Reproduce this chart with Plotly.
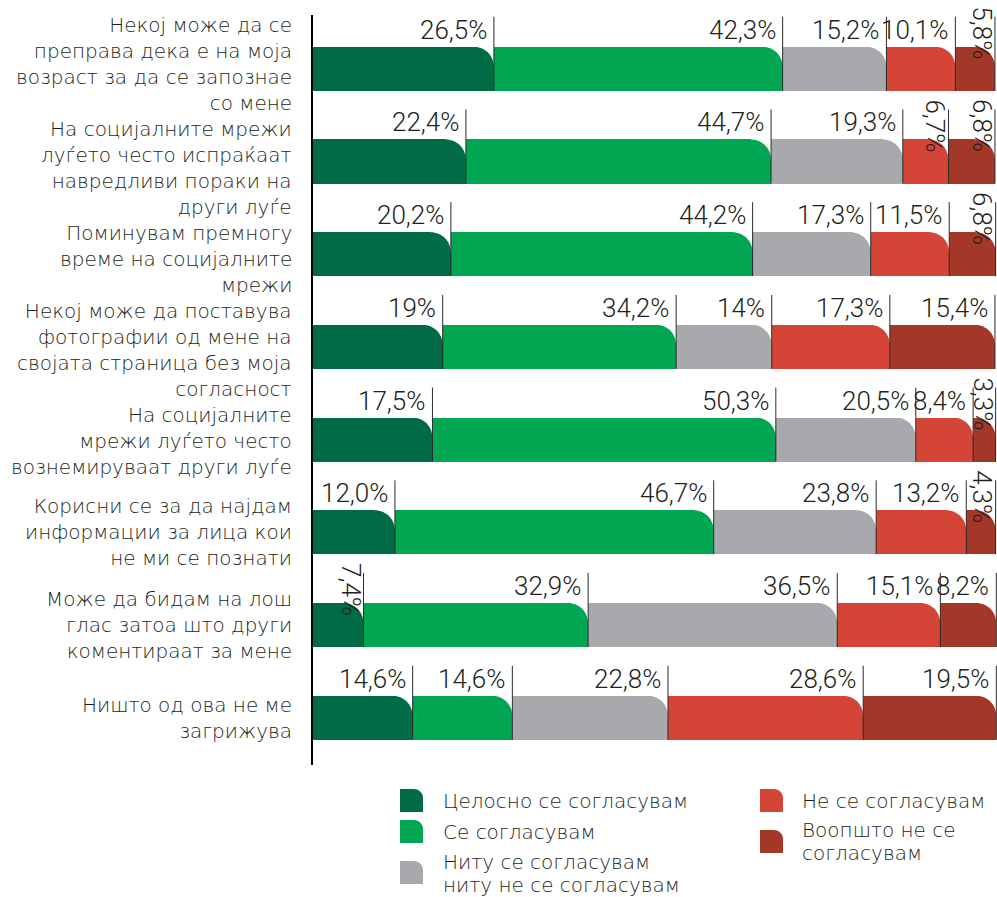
import plotly.graph_objects as go

# ---------------- data ----------------
categories = [
    "Некој може да се<br>преправа дека е на моја<br>возраст за да се запознае<br>со мене",
    "На социјалните мрежи<br>луѓето често испраќаат<br>навредливи пораки на<br>други луѓе",
    "Поминувам премногу<br>време на социјалните<br>мрежи",
    "Некој може да поставува<br>фотографии од мене на<br>својата страница без моја<br>согласност",
    "На социјалните<br>мрежи луѓето често<br>вознемируваат други луѓе",
    "Корисни се за да најдам<br>информации за лица кои<br>не ми се познати",
    "Може да бидам на лош<br>глас затоа што други<br>коментираат за мене",
    "Ништо од ова не ме<br>загрижува",
]

series_names = [
    "Целосно се согласувам",
    "Се согласувам",
    "Ниту се согласувам<br>ниту не се согласувам",
    "Не се согласувам",
    "Воопшто не се<br>согласувам",
]

fully_agree = [26.5, 22.4, 20.2, 19.0, 17.5, 12.0, 7.4, 14.6]
agree = [42.3, 44.7, 44.2, 34.2, 50.3, 46.7, 32.9, 14.6]
neutral = [15.2, 19.3, 17.3, 14.0, 20.5, 23.8, 36.5, 22.8]
disagree = [10.1, 6.7, 11.5, 17.3, 8.4, 13.2, 15.1, 28.6]
strongly_disagree = [5.8, 6.8, 6.8, 15.4, 3.3, 4.3, 8.2, 19.5]

labels_fully_agree = ["26,5%", "22,4%", "20,2%", "19%", "17,5%", "12,0%", "7,4%", "14,6%"]
labels_agree = ["42,3%", "44,7%", "44,2%", "34,2%", "50,3%", "46,7%", "32,9%", "14,6%"]
labels_neutral = ["15,2%", "19,3%", "17,3%", "14%", "20,5%", "23,8%", "36,5%", "22,8%"]
labels_disagree = ["10,1%", "6,7%", "11,5%", "17,3%", "8,4%", "13,2%", "15,1%", "28,6%"]
labels_strongly_disagree = ["5,8%", "6,8%", "6,8%", "15,4%", "3,3%", "4,3%", "8,2%", "19,5%"]

colors = ["#006B45", "#00A651", "#A7A9AC", "#D44538", "#A33728"]

# ---------------- layout constants ----------------
W, H = 997, 897
ML, MR, MT, MB = 313, 0, 15, 132
X_MAX = 100.2
Y_TOP, Y_BOTTOM = -0.58, 7.51
BAR_W = 0.475
CORNER_R = 20
LINE_EXT_PX = 30
ROTATE_BELOW = 8.0
PCT_FONT = "Roboto, 'Open Sans', sans-serif"
TXT_FONT = "'DejaVu Sans', 'Open Sans', sans-serif"
TEXT_COLOR = "#231F20"
CAT_FONT_SIZE = 20
LINE_PITCH = 1.3 * CAT_FONT_SIZE
PCT_FONT_SIZE = 26
LEG_FONT_SIZE = 20
PUSH_UP_SHARE = 0.3

plot_w = W - ML - MR
plot_h = H - MT - MB
px_per_x = plot_w / X_MAX
px_per_y = plot_h / (Y_BOTTOM - Y_TOP)
K = 0.5523

series = [fully_agree, agree, neutral, disagree, strongly_disagree]
series_labels = [labels_fully_agree, labels_agree, labels_neutral,
                 labels_disagree, labels_strongly_disagree]
ypos = list(range(len(categories)))

fig = go.Figure()
for name, vals, col in zip(series_names, series, colors):
    fig.add_trace(go.Bar(
        y=ypos, x=vals, orientation="h", name=name.replace("<br>", " "),
        width=BAR_W, marker=dict(color=col, line=dict(width=0)),
        showlegend=False,
        hovertemplate="%{x}%<extra>" + name.replace("<br>", " ") + "</extra>",
    ))

masks, lines, annotations = [], [], []
for i in ypos:
    cum = 0.0
    top = i - BAR_W / 2
    bottom = i + BAR_W / 2
    for vals, labs in zip(series, series_labels):
        v = vals[i]
        cum += v
        r = min(CORNER_R, v * px_per_x)
        a = (1 - K) * r
        masks.append(dict(
            type="path", xref="x", yref="y",
            xsizemode="pixel", ysizemode="pixel",
            xanchor=cum, yanchor=top,
            path=(f"M {-r:.2f},0 L {-r:.2f},1 L 0,1 L 0,{-r:.2f} "
                  f"C 0,{-a:.2f} {-a:.2f},0 {-r:.2f},0 Z"),
            fillcolor="white", line=dict(width=0), layer="above",
        ))
        lines.append(dict(
            type="line", xref="x", yref="y",
            x0=cum, x1=cum, y0=bottom, y1=top - LINE_EXT_PX / px_per_y,
            line=dict(color="#2b2b2b", width=1), layer="above",
        ))
        if v < ROTATE_BELOW:
            annotations.append(dict(
                x=cum, y=top, xref="x", yref="y", text=labs[i],
                showarrow=False, textangle=90,
                xanchor="right", yanchor="bottom", xshift=4, yshift=-15,
                font=dict(family=PCT_FONT, size=PCT_FONT_SIZE, color=TEXT_COLOR, weight=300),
            ))
        else:
            annotations.append(dict(
                x=cum, y=top, xref="x", yref="y", text=labs[i],
                showarrow=False, xanchor="right", yanchor="bottom",
                xshift=-5, yshift=0,
                font=dict(family=PCT_FONT, size=PCT_FONT_SIZE, color=TEXT_COLOR, weight=300),
            ))

# ---------------- category labels (centred, pushed apart where they collide) ----------------
n_lines = [c.count("<br>") + 1 for c in categories]
centres = [MT + (i - Y_TOP) * px_per_y for i in ypos]
half = [n * LINE_PITCH / 2 for n in n_lines]
offsets = [0.0] * len(categories)
for _ in range(300):
    for i in range(len(categories) - 1):
        ov = (centres[i] + offsets[i] + half[i]) - (centres[i + 1] + offsets[i + 1] - half[i + 1])
        if ov > 0.01:
            offsets[i] -= ov * PUSH_UP_SHARE
            offsets[i + 1] += ov * (1 - PUSH_UP_SHARE)
for i, cat in enumerate(categories):
    annotations.append(dict(
        x=0, y=i, xref="paper", yref="y", text=cat, showarrow=False,
        xanchor="right", yanchor="middle", align="right",
        xshift=-19, yshift=-offsets[i],
        font=dict(family=TXT_FONT, size=CAT_FONT_SIZE, color=TEXT_COLOR, weight=300),
    ))

# ---------------- manual legend ----------------
def px_to_paper(px, py):
    return (px - ML) / plot_w, (H - MB - py) / plot_h

legend_swatch_x = [400, 400, 400, 760, 760]
legend_swatch_top = [789, 820, 861, 789, 830]
legend_text_x = [441, 441, 441, 800, 800]
legend_text_y = [801, 832, 862, 801, 830]
LEG_PITCH = 23
SW_W, SW_H, SW_R = 23, 23, 9

legend_shapes = []
for sx, st, col in zip(legend_swatch_x, legend_swatch_top, colors):
    x0 = sx - ML
    x1 = x0 + SW_W
    yt = (H - MB) - st
    yb = yt - SW_H
    a = (1 - K) * SW_R
    legend_shapes.append(dict(
        type="path", xref="paper", yref="paper",
        xsizemode="pixel", ysizemode="pixel", xanchor=0, yanchor=0,
        path=(f"M {x0},{yb} L {x0},{yt} L {x1 - SW_R},{yt} "
              f"C {x1 - a:.2f},{yt} {x1},{yt - a:.2f} {x1},{yt - SW_R} "
              f"L {x1},{yb} Z"),
        fillcolor=col, line=dict(width=0), layer="above",
    ))

for name, tx, ty in zip(series_names, legend_text_x, legend_text_y):
    for k, line in enumerate(name.split("<br>")):
        px, py = px_to_paper(tx, ty + k * LEG_PITCH)
        annotations.append(dict(
            x=px, y=py, xref="paper", yref="paper", text=line,
            showarrow=False, xanchor="left", yanchor="middle", align="left",
            font=dict(family=TXT_FONT, size=LEG_FONT_SIZE, color=TEXT_COLOR, weight=300),
        ))

fig.update_layout(
    width=W, height=H,
    margin=dict(l=ML, r=MR, t=MT, b=MB, pad=0),
    barmode="stack",
    plot_bgcolor="white", paper_bgcolor="white",
    xaxis=dict(range=[0, X_MAX], visible=False, fixedrange=True),
    yaxis=dict(
        range=[Y_BOTTOM, Y_TOP], tickvals=ypos, showticklabels=False,
        showgrid=False, zeroline=False, ticks="",
        showline=True, linecolor="black", linewidth=2,
        fixedrange=True,
    ),
    shapes=masks + lines + legend_shapes,
    annotations=annotations,
    showlegend=False,
)

fig.write_html(
    "out.html",
    config={"displayModeBar": False},
    post_script="document.body.style.margin='0';document.body.style.overflow='hidden';",
)
